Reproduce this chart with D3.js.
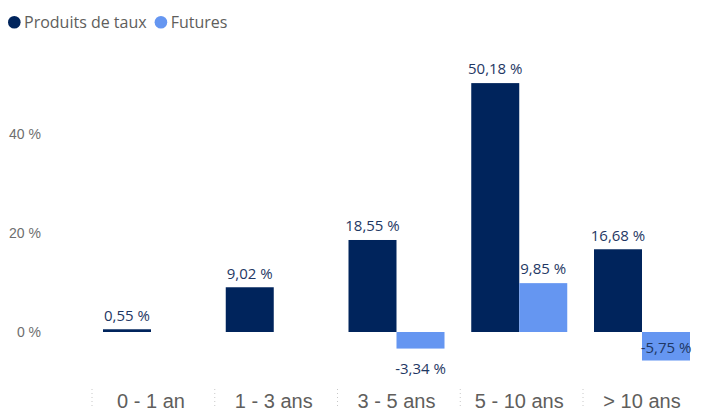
<!DOCTYPE html>
<html>
<head>
<meta charset="utf-8">
<script src="https://cdn.jsdelivr.net/npm/d3@7"></script>
<style>
  html, body { margin: 0; padding: 0; background: #fff; }
  svg { display: block; font-family: "Segoe UI", "Open Sans", "Noto Sans", sans-serif; }
</style>
</head>
<body>
<svg id="chart" width="702" height="411"></svg>
<script>
// Maturity buckets
const categories = ["0 - 1 an", "1 - 3 ans", "3 - 5 ans", "5 - 10 ans", "> 10 ans"];
// Exposure by bucket (%)
const produitsDeTaux = [0.55, 9.02, 18.55, 50.18, 16.68];
const futures = [null, null, -3.34, 9.85, -5.75];
const seriesNames = ["Produits de taux", "Futures"];
const seriesColors = ["#00245C", "#6596F1"];
const yTicks = [0, 20, 40];

const svg = d3.select("#chart");

const fmt = v => d3.format(".2f")(v).replace(".", ",").replace("\u2212", "-") + " %";

// Scales
const pxPerPct = 4.96;
const y = d3.scaleLinear().domain([-8, 55]).range([332 + 8 * pxPerPct, 332 - 55 * pxPerPct]);
const step = 122.75, padIn = 1 - 96 / step, padOut = padIn / 2;
const r0 = 103 - padOut * step;
const x0 = d3.scaleBand().domain(categories).range([r0, r0 + categories.length * step])
  .paddingInner(padIn).paddingOuter(padOut);
const x1 = d3.scaleBand().domain(seriesNames).range([0, x0.bandwidth()]);

// Legend
const legend = svg.append("g").attr("transform", "translate(0,22)");
let lx = 8;
seriesNames.forEach((name, i) => {
  const g = legend.append("g").attr("transform", `translate(${lx},0)`);
  g.append("circle").attr("cx", 6.3).attr("cy", 0.3).attr("r", 6.3).attr("fill", seriesColors[i]);
  const t = g.append("text").attr("x", 16).attr("y", 0).attr("dy", "0.36em")
    .attr("fill", "#605E5C").attr("font-size", 16).text(name);
  lx += 16 + t.node().getComputedTextLength() + 8;
});

// Y axis labels
const yAxis = d3.axisLeft(y).tickValues(yTicks).tickSize(0).tickPadding(0)
  .tickFormat(d => d + " %");
svg.append("g").attr("transform", "translate(41,0)").call(yAxis)
  .call(g => g.select(".domain").remove())
  .call(g => g.selectAll("text").attr("fill", "#6E6E6E").attr("font-size", 14)
    .attr("font-family", null));

// X axis labels
const xAxis = d3.axisBottom(x0).tickSize(0).tickPadding(0);
svg.append("g").attr("transform", "translate(0,408)").call(xAxis)
  .call(g => g.select(".domain").remove())
  .call(g => g.selectAll("text").attr("fill", "#605E5C").attr("font-size", 20)
    .attr("dy", 0).attr("font-family", null));

// Dotted separators between categories
svg.append("g").selectAll("line")
  .data(categories)
  .join("line")
  .attr("x1", d => x0(d) - 11)
  .attr("x2", d => x0(d) - 11)
  .attr("y1", 389).attr("y2", 407)
  .attr("stroke", "#C8C8C8").attr("stroke-width", 1)
  .attr("stroke-dasharray", "1,3");

// Bars and value labels
const seriesValues = [produitsDeTaux, futures];
const barsG = svg.append("g");
const labelsG = svg.append("g");
seriesNames.forEach((name, si) => {
  const data = categories.map((c, i) => ({ c, v: seriesValues[si][i] })).filter(d => d.v != null);
  barsG.selectAll(`rect.s${si}`)
    .data(data)
    .join("rect")
    .attr("class", `s${si}`)
    .attr("x", d => x0(d.c) + x1(name))
    .attr("width", x1.bandwidth())
    .attr("y", d => y(Math.max(0, d.v)))
    .attr("height", d => Math.abs(y(d.v) - y(0)))
    .attr("fill", seriesColors[si]);

  labelsG.selectAll(`text.s${si}`)
    .data(data)
    .join("text")
    .attr("class", `s${si}`)
    .attr("x", d => x0(d.c) + x1(name) + x1.bandwidth() / 2)
    .attr("y", d => {
      if (d.v >= 0) return y(d.v) - 14;
      const below = y(d.v) + 20;
      // labels that would run into the axis area sit inside the bar end
      return below > 372 ? y(d.v) - 13 : below;
    })
    .attr("dy", "0.35em")
    .attr("text-anchor", "middle")
    .attr("fill", "#1F3864")
    .attr("font-size", 15)
    .text(d => fmt(d.v));
});
</script>
</body>
</html>
